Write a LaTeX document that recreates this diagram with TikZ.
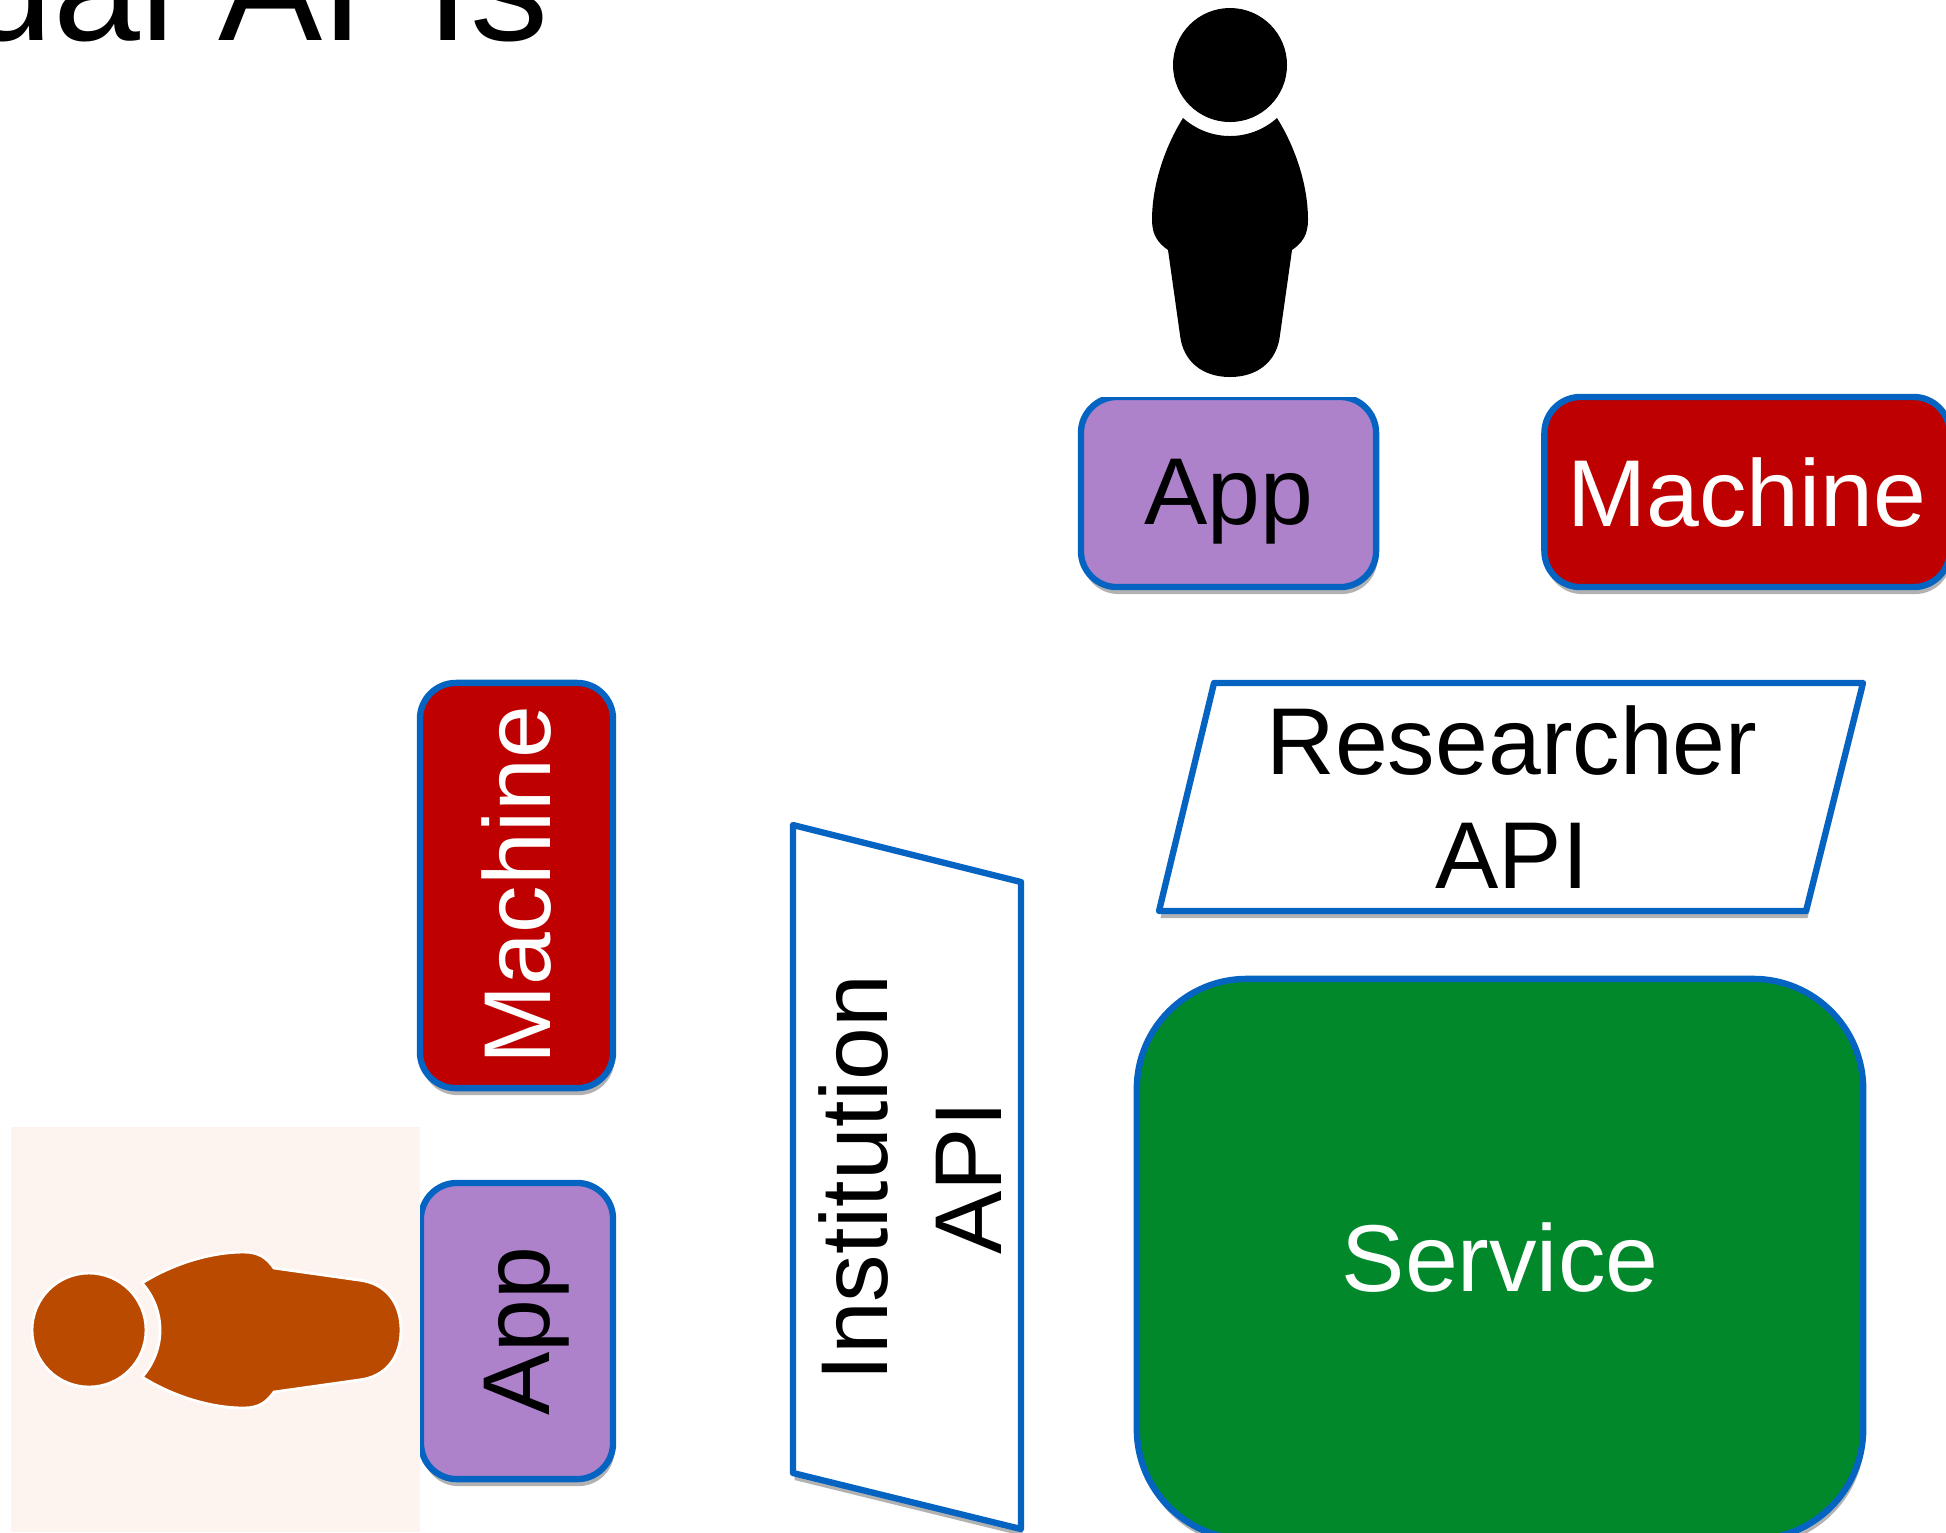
\documentclass[tikz,border=0pt]{standalone}
\usepackage{fontspec}
\usepackage{graphicx}
\setmainfont{Liberation Sans}
\usetikzlibrary{shadows}

\definecolor{edgeblue}{RGB}{5,99,193}
\definecolor{appviolet}{RGB}{174,130,203}
\definecolor{machinered}{RGB}{190,0,0}
\definecolor{servicegreen}{RGB}{0,136,43}
\definecolor{photopeach}{RGB}{253,243,239}
\definecolor{personorange}{RGB}{185,74,0}

\tikzset{
    boxtext/.style={font=\fontsize{27}{32.4}\selectfont, inner sep=0pt, align=center},
    softshadow/.style={drop shadow={shadow xshift=.015cm, shadow yshift=-.07cm, opacity=.3, fill=black}},
    panel/.style={draw=edgeblue, line width=1.8pt, softshadow, boxtext, text depth=0pt},
    appbox/.style={panel, fill=appviolet, text=black, rounded corners=.36cm},
    machinebox/.style={panel, fill=machinered, text=white, rounded corners=.36cm},
    apibox/.style={draw=edgeblue, line width=1.8pt, fill=white, softshadow, line join=round},
    person/.pic={
        \path[pic actions] (0,0) circle (57);
        \path[pic actions] (-47,53) .. controls (-20,77) and (20,77) .. (47,53)
            .. controls (64,80) and (78,118) .. (78,155)
            .. controls (78,170) and (72,178) .. (62,185)
            -- (50,270) .. controls (47,297) and (27,312) .. (0,312)
            .. controls (-27,312) and (-47,297) .. (-50,270)
            -- (-62,185) .. controls (-72,178) and (-78,170) .. (-78,155)
            .. controls (-78,118) and (-64,80) .. (-47,53) -- cycle;
    }
}

\begin{document}
\begin{tikzpicture}[x=.01cm, y=-.01cm]
    \useasboundingbox (0,0) rectangle (1946,1532);
    \clip (0,0) rectangle (1946,1532);

    \node[anchor=base east, inner sep=0pt, font=\fontsize{44.4}{50}\selectfont] (title) at (549,40) {ual APIs};

    % top row
    \node[appbox, minimum width=2.95cm, minimum height=1.9cm] (apptop) at (1228.5,492) {App};
    \fill[white] (1040,340) rectangle (1420,397);
    \pic[fill=black] at (1230,65) {person};
    \node[machinebox, minimum width=4.05cm, minimum height=1.9cm] (machinetop) at (1747,492) {Machine};

    % researcher side
    \draw[apibox] (1214,683) -- (1863,683) -- (1806,911) -- (1159,911) -- cycle;
    \node[boxtext] (researcherapi) at (1512,797) {Researcher\\API};
    \node[panel, fill=servicegreen, text=white, rounded corners=1.1cm, minimum width=7.26cm, minimum height=5.6cm] (service) at (1500,1259) {\raisebox{.04cm}{Service}};

    % institution side
    \draw[apibox] (793,825) -- (1021,882) -- (1021,1529) -- (793,1473) -- cycle;
    \node[boxtext, rotate=90] (institutionapi) at (910,1178) {Institution\\API};

    \node[machinebox, minimum width=1.93cm, minimum height=4.05cm] (machineleft) at (516.5,885.5) {\rotatebox{90}{Machine}};
    \node[appbox, minimum width=1.92cm, minimum height=2.96cm] (appleft) at (517,1331) {\rotatebox{90}{\raisebox{0pt}[\height][0pt]{App}}};
    \fill[photopeach] (11,1127) rectangle (420,1532);
    \pic[fill=personorange, draw=white, line width=.8pt, rotate=90] at (89,1330) {person};
\end{tikzpicture}
\end{document}
